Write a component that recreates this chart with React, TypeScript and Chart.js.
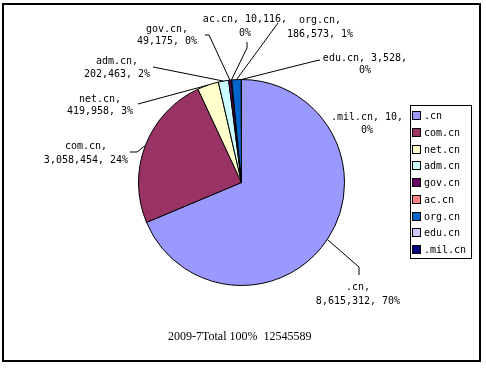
import React, { useEffect, useRef } from "react";
import { Chart, registerables } from "chart.js";

Chart.register(...registerables);

const categories = [".cn", "com.cn", "net.cn", "adm.cn", "gov.cn", "ac.cn", "org.cn", "edu.cn", ".mil.cn"];
const counts = [8615312, 3058454, 419958, 202463, 49175, 10116, 186573, 3528, 10];
const percentLabels = ["70%", "24%", "3%", "2%", "0%", "0%", "1%", "0%", "0%"];
const sliceColors = ["#9999FF", "#993366", "#FFFFCC", "#CCFFFF", "#660066", "#FF8080", "#0066CC", "#CCCCFF", "#000080"];
const titleText = "2009-7Total 100%  12545589";

// label layout (annotation positions): text centre x, first/second line y, leader points before the pie edge
const labelLayout = [
  { lines: 2, split: 1, x: 358, y: [287, 301], leader: [[359, 275], [359, 267]] },
  { lines: 2, split: 1, x: 86, y: [146, 160], leader: [[130, 152], [137, 152]] },
  { lines: 2, split: 1, x: 100, y: [99, 111], leader: [[138, 104]] },
  { lines: 2, split: 1, x: 117, y: [61, 74], leader: [[153, 67]] },
  { lines: 2, split: 1, x: 167, y: [29, 41], leader: [[205, 35], [209, 35]] },
  { lines: 2, split: 2, x: 245, y: [19, 33], leader: [[247, 42], [247, 48]] },
  { lines: 2, split: 1, x: 320, y: [20, 34], leader: [[278, 23]] },
  { lines: 2, split: 2, x: 365, y: [58, 70], leader: [[320, 60], [315, 61]] },
  { lines: 2, split: 2, x: 367, y: [117, 130], leader: [] as number[][] },
];

const fmt = (n: number) => n.toLocaleString("en-US");
const MONO = "10px 'DejaVu Sans Mono'";

const overlay = {
  id: "overlay",
  afterDraw(chart: any) {
    const ctx = chart.ctx as CanvasRenderingContext2D;
    const meta = chart.getDatasetMeta(0);
    ctx.save();
    // outer frame
    ctx.strokeStyle = "#000";
    ctx.lineWidth = 2;
    ctx.strokeRect(3, 4, 477, 357);

    // leaders + labels
    ctx.lineWidth = 1;
    ctx.font = MONO;
    ctx.fillStyle = "#000";
    ctx.textAlign = "center";
    ctx.textBaseline = "middle";
    categories.forEach((cat, i) => {
      const arc = meta.data[i];
      const L = labelLayout[i];
      const parts = [cat + ",", fmt(counts[i]) + ",", percentLabels[i]];
      let l1: string, l2: string;
      if (L.split === 1) {
        l1 = parts[0];
        l2 = parts[1] + " " + parts[2];
      } else {
        l1 = parts[0] + " " + parts[1];
        l2 = parts[2];
      }
      ctx.fillText(l1, L.x, L.y[0]);
      ctx.fillText(l2, L.x, L.y[1]);
      if (L.leader.length && arc) {
        const mid = (arc.startAngle + arc.endAngle) / 2;
        const ex = arc.x + Math.cos(mid) * arc.outerRadius;
        const ey = arc.y + Math.sin(mid) * arc.outerRadius;
        ctx.beginPath();
        ctx.moveTo(L.leader[0][0], L.leader[0][1]);
        for (let k = 1; k < L.leader.length; k++) ctx.lineTo(L.leader[k][0], L.leader[k][1]);
        ctx.lineTo(ex, ey);
        ctx.stroke();
      }
    });

    // legend
    ctx.strokeStyle = "#000";
    ctx.lineWidth = 1;
    ctx.strokeRect(410.5, 105.5, 61, 153);
    ctx.textAlign = "left";
    categories.forEach((cat, i) => {
      const cy = Math.round(116 + i * 16.75);
      ctx.fillStyle = sliceColors[i];
      ctx.fillRect(413, cy - 4, 7, 7);
      ctx.strokeStyle = "#000";
      ctx.strokeRect(412.5, cy - 4.5, 8, 8);
      ctx.fillStyle = "#000";
      ctx.fillText(cat, 424, cy);
    });

    // title
    ctx.font = "12px 'Liberation Serif'";
    ctx.textAlign = "left";
    ctx.fillText(titleText, 168, 337);
    ctx.restore();
  },
};

export default function App() {
  const ref = useRef<HTMLCanvasElement>(null);
  useEffect(() => {
    if (!ref.current) return;
    const chart = new Chart(ref.current, {
      type: "pie",
      data: {
        labels: categories,
        datasets: [
          {
            data: counts,
            backgroundColor: sliceColors,
            borderColor: "#000",
            borderWidth: 1,
          },
        ],
      },
      options: {
        responsive: false,
        maintainAspectRatio: false,
        animation: false,
        devicePixelRatio: 1,
        layout: { padding: { left: 138, top: 79, right: 141, bottom: 82 } },
        plugins: { legend: { display: false }, tooltip: { enabled: false }, title: { display: false } },
      },
      plugins: [overlay],
    });
    return () => chart.destroy();
  }, []);
  return (
    <div style={{ position: "fixed", left: 0, top: 0, width: 486, height: 368, background: "#fff" }}>
      <canvas ref={ref} width={486} height={368} style={{ display: "block" }} />
    </div>
  );
}
